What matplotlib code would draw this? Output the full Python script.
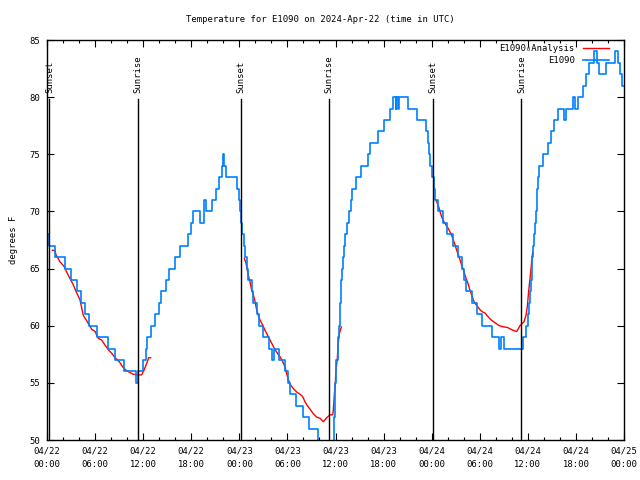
import matplotlib
matplotlib.use("Agg")
import matplotlib.pyplot as plt
import matplotlib.transforms as mtransforms
from matplotlib.ticker import FixedLocator, MultipleLocator

# hours since 2024-04-22 00:00 UTC
obs_hours = [0.0, 0.25, 1.0, 2.25, 3.05, 3.7, 4.27, 4.68, 5.3, 6.3, 7.65, 8.49, 9.67,
             11.1, 11.33, 12.02, 12.3, 12.52, 13.0, 13.48, 14.0, 14.2, 14.85, 15.18,
             15.97, 16.6, 17.63, 18.0, 18.26, 19.13, 19.55, 19.88, 20.59, 21.09, 21.5,
             21.8, 21.96, 22.13, 22.3, 23.75, 23.96, 24.12, 24.25, 24.37, 24.54, 24.71,
             24.92, 25.12, 25.58, 25.75, 26.24, 26.5, 27.0, 27.7, 28.1, 28.3, 28.9,
             29.7, 30.1, 30.36, 31.07, 31.9, 32.73, 33.86, 35.8, 35.94, 36.1, 36.25,
             36.4, 36.55, 36.73, 36.8, 36.9, 37.06, 37.19, 37.4, 37.72, 37.9, 38.02,
             38.56, 39.14, 40.1, 40.3, 41.34, 42.05, 42.8, 43.2, 43.5, 43.6, 43.76,
             43.9, 45.09, 46.13, 47.29, 47.54, 47.67, 47.79, 48.04, 48.25, 48.46,
             48.83, 49.37, 49.87, 50.7, 51.3, 51.74, 52.07, 52.24, 53.07, 53.7, 54.32,
             55.49, 56.44, 56.65, 57.07, 59.44, 59.73, 60.06, 60.18, 60.27, 60.4,
             60.48, 60.56, 60.68, 60.8, 60.93, 61.02, 61.12, 61.2, 61.3, 61.43, 61.93,
             62.55, 62.85, 63.27, 63.8, 64.55, 64.76, 65.67, 65.92, 66.26, 66.85,
             67.26, 67.67, 68.3, 68.65, 68.9, 69.7, 70.9, 71.2, 71.5, 71.8, 72.0]
obs_temp = [68, 67, 66, 65, 64, 63, 62, 61, 60, 59, 58, 57, 56,
            55, 56, 57, 58, 59, 60, 61, 62, 63, 64, 65,
            66, 67, 68, 69, 70, 69, 71, 70, 71, 72, 73,
            74, 75, 74, 73, 72, 71, 70, 69, 68, 67, 66,
            65, 64, 63, 62, 61, 60, 59, 58, 57, 58, 57,
            56, 55, 54, 53, 52, 51, 49, 52, 55, 57, 59,
            60, 62, 64, 65, 66, 67, 68, 69, 70, 71, 72,
            73, 74, 75, 76, 77, 78, 79, 80, 79, 80, 79,
            80, 79, 78, 77, 76, 75, 74, 73, 72, 71,
            70, 69, 68, 67, 66, 65, 64, 63, 62, 61, 60,
            59, 58, 59, 58, 59, 60, 61, 62, 63, 64,
            65, 66, 67, 68, 69, 70, 71, 72, 73, 74, 75,
            76, 77, 78, 79, 78, 79, 80, 79, 80, 81,
            82, 83, 84, 83, 82, 83, 84, 83, 82, 81, 81]

# analysis runs (three overnight windows)
ana1_hours = [0.66, 1.0, 1.12, 1.62, 2.12, 2.66, 3.2, 3.62, 4.12, 4.53, 5.03, 5.57,
              5.99, 6.4, 6.82, 7.24, 7.65, 8.07, 8.49, 9.02, 9.44, 9.86, 10.36,
              10.77, 11.39, 11.81, 12.1, 12.44, 12.69, 12.94]
ana1_temp = [66.6, 66.6, 66.2, 65.6, 65.2, 64.4, 63.7, 63.0, 62.25, 60.9, 60.35, 59.7,
             59.5, 58.9, 58.75, 58.3, 57.9, 57.6, 57.2, 56.85, 56.4, 56.1, 55.9,
             55.75, 55.7, 55.7, 56.1, 56.7, 57.2, 57.2]
ana2_hours = [24.62, 24.83, 25.12, 25.33, 25.54, 25.75, 25.96, 26.16, 26.37, 26.58,
              26.91, 27.2, 27.5, 27.83, 28.16, 28.45, 28.74, 29.07, 29.41, 29.7,
              29.91, 30.12, 30.41, 30.74, 31.16, 31.57, 31.9, 32.19, 32.49, 32.82,
              33.23, 33.65, 34.07, 34.48, 34.9, 35.31, 35.65, 35.73, 35.85, 35.98,
              36.06, 36.23, 36.35, 36.48, 36.73]
ana2_temp = [65.9, 65.5, 64.4, 63.85, 63.1, 62.7, 62.1, 61.4, 60.9, 60.5,
             60.06, 59.6, 59.2, 58.75, 58.3, 57.9, 57.6, 57.3, 56.85, 56.4,
             55.8, 55.25, 54.8, 54.5, 54.2, 54.0, 53.8, 53.35, 53.0, 52.7,
             52.3, 52.0, 51.9, 51.6, 51.95, 52.2, 52.2, 52.6, 53.9, 55.0,
             56.1, 57.15, 58.5, 59.3, 59.9]
ana3_hours = [48.54, 48.88, 49.04, 49.25, 49.54, 49.79, 50.08, 50.29, 50.5, 50.7,
              50.91, 51.12, 51.33, 51.54, 51.74, 51.95, 52.16, 52.37, 52.58, 52.78,
              52.99, 53.2, 53.41, 53.7, 54.03, 54.37, 54.66, 54.95, 55.28, 55.62,
              56.03, 56.44, 56.94, 57.44, 57.86, 58.27, 58.61, 58.86, 59.02, 59.52,
              59.77, 59.94, 60.11, 60.27, 60.4, 60.52, 60.61]
ana3_temp = [71.0, 70.4, 70.0, 69.5, 69.1, 68.8, 68.5, 68.2, 67.9, 67.5,
             67.1, 66.6, 66.2, 65.75, 65.3, 64.9, 64.4, 64.0, 63.6, 63.1,
             62.7, 62.25, 61.96, 61.7, 61.4, 61.2, 61.1, 60.85, 60.6, 60.4,
             60.2, 60.0, 59.9, 59.85, 59.7, 59.56, 59.5, 59.8, 60.0, 60.35,
             60.9, 61.7, 63.1, 64.1, 65.0, 66.0, 66.4]

sun_hours = [0.3, 11.4, 24.2, 35.2, 48.2, 59.2]
sun_names = ["Sunset", "Sunrise", "Sunset", "Sunrise", "Sunset", "Sunrise"]

tick_hours = [0, 6, 12, 18, 24, 30, 36, 42, 48, 54, 60, 66, 72]
tick_labels = ["04/22\n00:00", "04/22\n06:00", "04/22\n12:00", "04/22\n18:00",
               "04/23\n00:00", "04/23\n06:00", "04/23\n12:00", "04/23\n18:00",
               "04/24\n00:00", "04/24\n06:00", "04/24\n12:00", "04/24\n18:00",
               "04/25\n00:00"]

plt.rcParams["font.family"] = ["DejaVu Sans Mono"]
plt.rcParams["font.size"] = 6.4

fig = plt.figure(figsize=(6.4, 4.8), dpi=100)
ax = fig.add_axes([47 / 640, 40 / 480, 577 / 640, 400 / 480])

red = "#ff0000"
blue = "#0080ff"
ax.plot(ana1_hours, ana1_temp, color=red, lw=1.0, label="E1090\u2080Analysis")
ax.plot(ana2_hours, ana2_temp, color=red, lw=1.0)
ax.plot(ana3_hours, ana3_temp, color=red, lw=1.0)
ax.plot(obs_hours, obs_temp, color=blue, lw=1.2, drawstyle="steps-post", label="E1090")

# sunrise / sunset markers
for h, name in zip(sun_hours, sun_names):
    ax.axvline(h, ymin=0, ymax=1 - 59 / 400, color="black", lw=1.0)
    trans = mtransforms.blended_transform_factory(ax.transData, ax.transAxes)
    ax.text(h, 1 - 53 / 400, name, rotation=90, ha="center", va="bottom",
            transform=trans)

ax.set_xlim(0, 72)
ax.set_ylim(50, 85)
ax.xaxis.set_major_locator(FixedLocator(tick_hours))
ax.set_xticklabels(tick_labels, linespacing=1.6)
ax.xaxis.set_minor_locator(MultipleLocator(2))
ax.yaxis.set_major_locator(MultipleLocator(5))
ax.tick_params(which="both", direction="in", top=True, right=True, width=0.8)
ax.tick_params(which="major", length=5, pad=5)
ax.tick_params(which="minor", length=2.5)
for s in ax.spines.values():
    s.set_linewidth(1.0)

ax.set_ylabel("degrees F", labelpad=8)
fig.text(0.5, 1 - 19 / 480, "Temperature for E1090 on 2024-Apr-22 (time in UTC)",
         ha="center", va="center")

ax.legend(loc="upper right", bbox_to_anchor=(1 - 13 / 577, 1 - 2 / 400),
          frameon=False, markerfirst=False, handlelength=3.0, handletextpad=0.9,
          borderaxespad=0, borderpad=0.2, labelspacing=0.35)

fig.savefig("out.png", dpi=100)
